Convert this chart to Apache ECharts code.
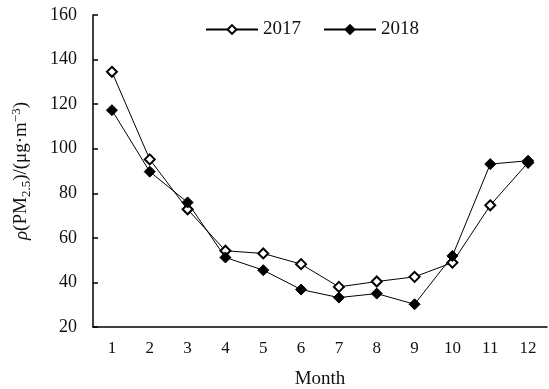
<!DOCTYPE html>
<html>
<head>
<meta charset="utf-8">
<script src="https://cdn.jsdelivr.net/npm/echarts@6/dist/echarts.min.js"></script>
<style>
  html, body { margin: 0; padding: 0; background: #fff; }
  #chart { width: 549px; height: 389px; }
</style>
</head>
<body>
<div id="chart"></div>
<script>
// Monthly mean PM2.5 mass concentration
const months = ['1', '2', '3', '4', '5', '6', '7', '8', '9', '10', '11', '12'];
const pm2017 = [134.5, 95.2, 72.8, 54.2, 53.0, 48.2, 38.0, 40.4, 42.5, 48.9, 74.6, 93.8];
const pm2018 = [117.3, 89.7, 75.9, 51.2, 45.5, 36.8, 33.2, 35.0, 30.2, 51.9, 93.1, 94.6];
const yTicks = { min: 20, max: 160, interval: 20 };

const serif = '"Liberation Serif", "Times New Roman", serif';

const chart = echarts.init(document.getElementById('chart'));
chart.setOption({
  animation: false,
  backgroundColor: '#fff',
  grid: { left: 93, right: 2, top: 15, bottom: 62, outerBoundsMode: 'none', containLabel: false },
  legend: {
    top: 15,
    left: 200,
    itemWidth: 52,
    itemHeight: 11,
    itemGap: 22,
    textStyle: { fontFamily: serif, fontSize: 19, color: '#111' },
    data: ['2017', '2018']
  },
  xAxis: {
    type: 'category',
    data: months,
    boundaryGap: true,
    name: 'Month',
    nameLocation: 'middle',
    nameGap: 43,
    nameTextStyle: { fontFamily: serif, fontSize: 19, color: '#111' },
    axisLine: { lineStyle: { color: '#000', width: 1.5 } },
    axisTick: { inside: true, length: 5, lineStyle: { color: '#000', width: 1.5 } },
    axisLabel: { fontFamily: serif, fontSize: 17, color: '#111', margin: 13 },
    splitLine: { show: false }
  },
  yAxis: {
    type: 'value',
    min: yTicks.min,
    max: yTicks.max,
    interval: yTicks.interval,
    name: '{i|ρ}(PM{sub|2.5})/(μg·m{sup|−3})',
    nameLocation: 'middle',
    nameRotate: 90,
    nameGap: 60,
    nameTextStyle: {
      fontFamily: serif, fontSize: 19, color: '#111',
      rich: {
        i: { fontFamily: serif, fontSize: 19, fontStyle: 'italic', color: '#111' },
        sub: { fontFamily: serif, fontSize: 13, color: '#111', padding: [10, 0, 0, 0] },
        sup: { fontFamily: serif, fontSize: 13, color: '#111', padding: [0, 0, 10, 0] }
      }
    },
    axisLine: { show: true, lineStyle: { color: '#000', width: 1.5 } },
    axisTick: { show: true, inside: true, length: 5, lineStyle: { color: '#000', width: 1.5 } },
    axisLabel: { fontFamily: serif, fontSize: 18, color: '#111', margin: 16 },
    splitLine: { show: false }
  },
  series: [
    {
      name: '2017',
      type: 'line',
      data: pm2017,
      symbol: 'diamond',
      symbolSize: 10,
      lineStyle: { color: '#000', width: 1 },
      itemStyle: { color: '#fff', borderColor: '#000', borderWidth: 2 },
      z: 3
    },
    {
      name: '2018',
      type: 'line',
      data: pm2018,
      symbol: 'diamond',
      symbolSize: 11,
      lineStyle: { color: '#000', width: 1 },
      itemStyle: { color: '#000', borderColor: '#000', borderWidth: 1 },
      z: 4
    }
  ]
});
</script>
</body>
</html>
